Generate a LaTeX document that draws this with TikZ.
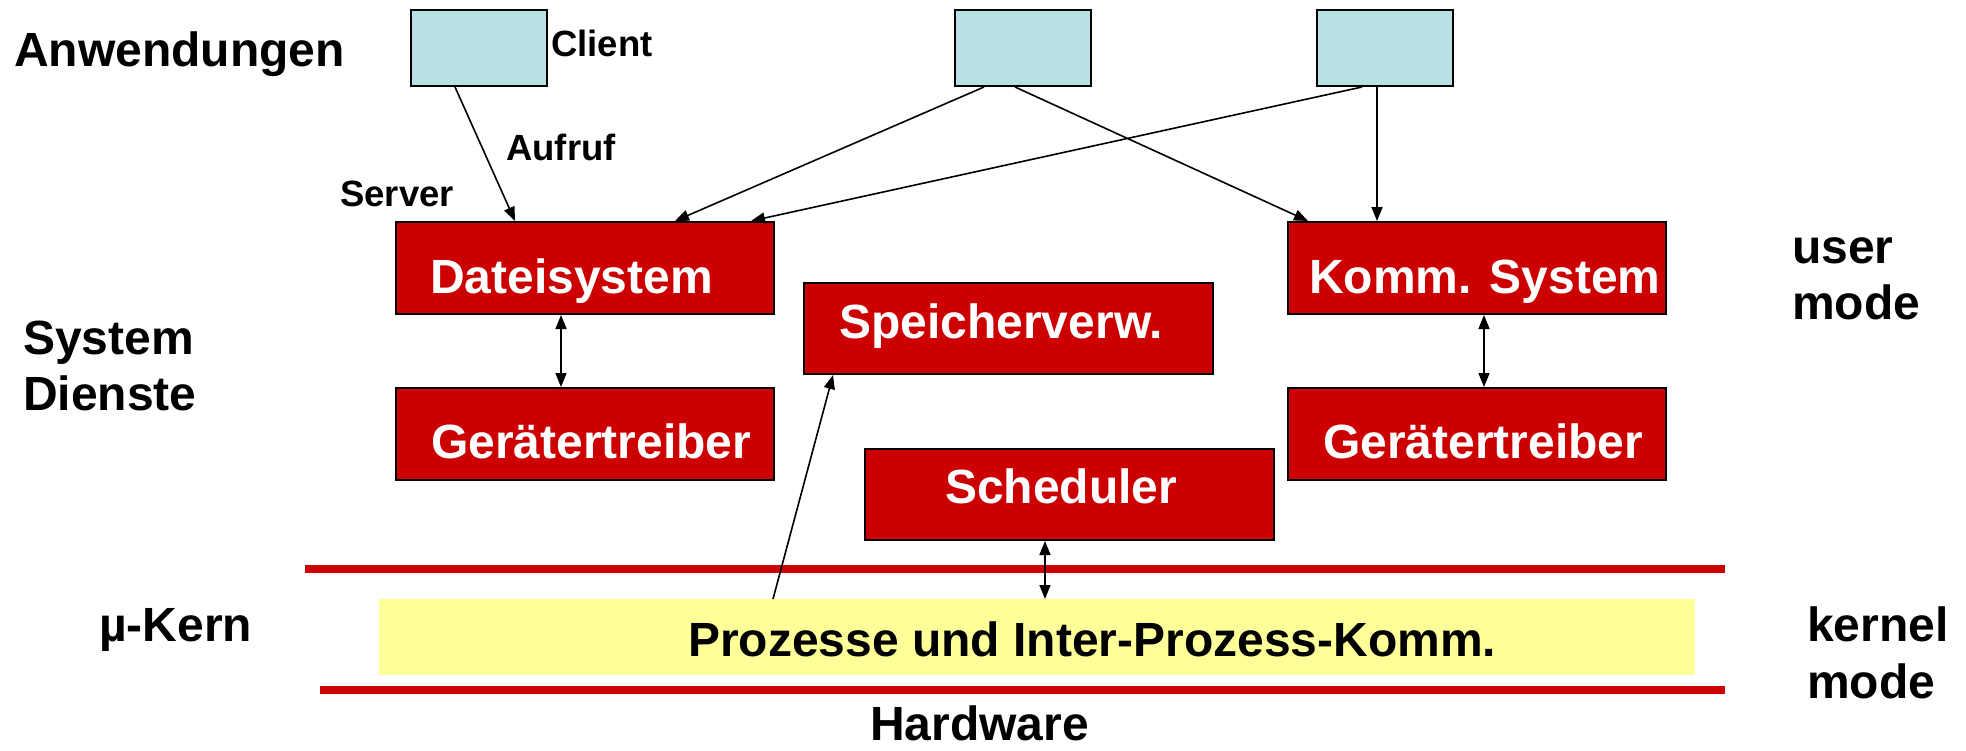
\documentclass[tikz,border=0pt]{standalone}
\usepackage{fontspec}
\setmainfont{Liberation Sans}
\usetikzlibrary{arrows.meta}
\definecolor{appblue}{HTML}{B9E0E3}
\definecolor{srvred}{HTML}{CC0000}
\definecolor{kernyellow}{HTML}{FFFF99}
\tikzset{
  appbox/.style={draw=black, line width=2pt, fill=appblue, anchor=north west, inner sep=0pt},
  redbox/.style={draw=black, line width=2pt, fill=srvred, anchor=north west, inner sep=0pt},
  bigtxt/.style={font=\fontsize{48}{56}\selectfont\bfseries, anchor=base west, inner sep=0pt},
  whitetxt/.style={bigtxt, text=white},
  smalltxt/.style={font=\fontsize{36.5}{44}\selectfont\bfseries, anchor=base west, inner sep=0pt},
  conn/.style={line width=1.6pt, -{Triangle[length=14pt,width=11pt]}},
  bidir/.style={line width=1.6pt, {Triangle[length=14pt,width=11pt]}-{Triangle[length=14pt,width=11pt]}},
  modeline/.style={draw=srvred, line width=8pt}
}
\begin{document}
\begin{tikzpicture}[x=1pt,y=-1pt]
\useasboundingbox[fill=white] (0,0) rectangle (1966,750);
% application boxes
\node[appbox, minimum width=136pt, minimum height=76pt] (c1) at (410,9) {};
\node[appbox, minimum width=136pt, minimum height=76pt] (c2) at (954,9) {};
\node[appbox, minimum width=136pt, minimum height=76pt] (c3) at (1316,9) {};
% server boxes
\node[redbox, minimum width=378pt, minimum height=92pt] (ds) at (395,221) {};
\node[redbox, minimum width=378pt, minimum height=92pt] (g1) at (395,387) {};
\node[redbox, minimum width=409pt, minimum height=91pt] (sp) at (803,282) {};
\node[redbox, minimum width=409pt, minimum height=91pt] (sc) at (864,448) {};
\node[redbox, minimum width=378pt, minimum height=92pt] (ks) at (1287,221) {};
\node[redbox, minimum width=378pt, minimum height=92pt] (g2) at (1287,387) {};
% kernel
\node[fill=kernyellow, anchor=north west, inner sep=0pt, minimum width=1316pt, minimum height=76pt] (pk) at (379,599) {};
\coordinate (l1a) at (305,569); \coordinate (l1b) at (1725,569);
\coordinate (l2a) at (320,690); \coordinate (l2b) at (1725,690);
\draw[modeline] (l1a) -- (l1b);
\draw[modeline] (l2a) -- (l2b);
% texts in boxes
\node[whitetxt] (tds) at (430,293) {Dateisystem};
\node[whitetxt] (tg1) at (431,458) {Gerätertreiber};
\node[whitetxt] (tsp) at (839,338) {Speicherverw.};
\node[whitetxt] (tsc) at (945,503) {Scheduler};
\node[whitetxt] (tks) at (1309,293) {Komm. System};
\node[whitetxt] (tg2) at (1323,458) {Gerätertreiber};
\node[bigtxt] (tpk) at (688,656) {Prozesse und Inter-Prozess-Komm.};
% side labels
\node[bigtxt] (anw) at (14,66) {Anwendungen};
\node[bigtxt] (sys1) at (23,354) {System};
\node[bigtxt] (sys2) at (23,410) {Dienste};
\node[bigtxt] (mk) at (99,641) {µ-Kern};
\node[bigtxt] (um1) at (1792,263) {user};
\node[bigtxt] (um2) at (1792,319) {mode};
\node[bigtxt] (km1) at (1807,641) {kernel};
\node[bigtxt] (km2) at (1807,698) {mode};
\node[bigtxt] (hw) at (870,740) {Hardware};
\node[smalltxt] (cl) at (551,56) {Client};
\node[smalltxt] (au) at (506,160) {Aufruf};
\node[smalltxt] (sv) at (340,206) {Server};
% connectors
\draw[conn] ([xshift=45pt]c1.south west) -- ([xshift=120pt]ds.north west);
\draw[conn] ([xshift=30pt]c2.south west) -- ([xshift=280pt]ds.north west);
\draw[conn] ([xshift=61pt]c2.south west) -- ([xshift=21pt]ks.north west);
\draw[conn] ([xshift=46pt]c3.south west) -- ([xshift=356pt]ds.north west);
\draw[conn] ([xshift=61pt]c3.south west) -- ([xshift=90pt]ks.north west);
\draw[bidir] ([xshift=166pt]ds.south west) -- ([xshift=166pt]g1.north west);
\draw[bidir] ([xshift=197pt]ks.south west) -- ([xshift=197pt]g2.north west);
\draw[bidir] ([xshift=181pt]sc.south west) -- ([xshift=666pt]pk.north west);
\draw[conn] ([xshift=394pt]pk.north west) -- ([xshift=30pt]sp.south west);
\end{tikzpicture}
\end{document}
